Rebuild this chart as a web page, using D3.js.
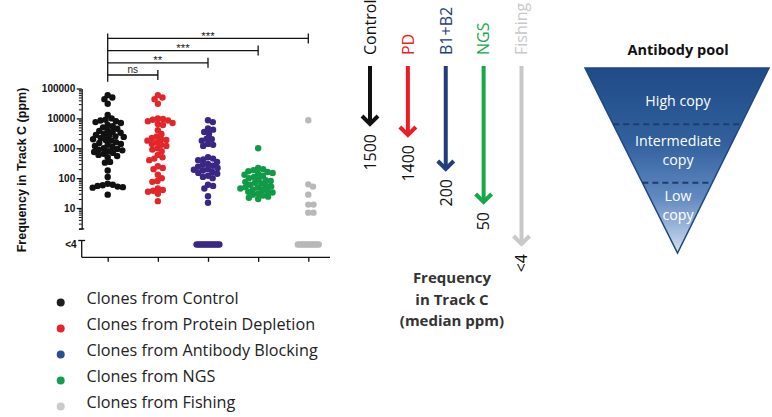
<!DOCTYPE html>
<html><head><meta charset="utf-8">
<script src="https://cdn.jsdelivr.net/npm/d3@7"></script>
<style>body{margin:0;background:#fff} svg{display:block}</style>
</head><body><svg id="c" width="772" height="417"></svg>
<script>
// ---------- data ----------
const groups = ["Control", "PD", "B1+B2", "NGS", "Fishing"];
const legendLabels = ["Clones from Control", "Clones from Protein Depletion", "Clones from Antibody Blocking", "Clones from NGS", "Clones from Fishing"];
const controlValues = [60000, 50000, 44000, 31000, 13000,
  10000, 9000, 8500, 8000, 7500, 7000, 6000, 5500, 5000, 4500, 4000, 3800, 3500, 3300, 3000, 2800, 2600, 2500, 2400, 2200,
  2000, 1900, 1800, 1600, 1500, 1400, 1300, 1200, 1100, 1000, 950, 900, 850, 800, 750, 700, 650, 600, 550, 500,
  350, 330, 180, 110, 65, 60, 58, 55, 52, 50, 48, 28];
const pdValues = [60000, 50000, 44000, 31000,
  10000, 9500, 9000, 8500, 8000, 7000, 6500, 6000,
  4000, 3000, 2500, 2200, 2000, 1900, 1800, 1600, 1400, 1300, 1200, 1000, 900, 800,
  600, 500, 450, 400, 250, 220, 200, 130, 100,
  80, 75, 45, 40, 38, 35, 30, 17];
const blockingValues = [8700, 7500, 4600, 4200, 3500, 3000, 2100, 2000, 1800, 1400, 1300, 1200,
  500, 450, 420, 400, 350, 300, 280, 260, 240, 220, 200, 190, 180, 160, 150, 140, 120, 110, 100,
  60, 55, 45, 25, 15];
const ngsValues = [1000, 220, 200, 185, 170, 160, 150, 140, 130, 120, 110, 100, 92, 85, 80, 75, 70, 65, 60, 56,
  52, 50, 48, 45, 42, 40, 37, 35, 33, 30, 28, 26, 24, 22, 20];
const fishingValues = [8700, 62, 52, 28, 13, 13, 7, 7];
const belowLimitCounts = [0, 0, 13, 0, 12];
const yTickValues = [10, 100, 1000, 10000, 100000];
const belowLimitLabel = "<4";
const yTitle = "Frequency in Track C (ppm)";
const comparisons = [["PD", "ns"], ["B1+B2", "**"], ["NGS", "***"], ["Fishing", "***"]];
const medianValues = [1500, 1400, 200, 50, 3];
const medianLabels = ["1500", "1400", "200", "50", "<4"];
const medianTitle = ["Frequency", "in Track C", "(median ppm)"];
const poolTitle = "Antibody pool";
const poolLevels = [["High copy"], ["Intermediate", "copy"], ["Low", "copy"]];

// ---------- styles ----------
const dotColors = ["#111111", "#e3262a", "#3a2784", "#119a48", "#b8b8b8"];
const legendColors = ["#1e1e1e", "#ee2127", "#284f93", "#14a04b", "#cacaca"];
const arrowColors = ["#111111", "#ed1c24", "#1f3e7c", "#17a84a", "#c8c8c8"];
const seriesValues = [controlValues, pdValues, blockingValues, ngsValues, fishingValues];

const svg = d3.select("#c");
const axisFont = "'Liberation Sans', Arial, sans-serif";
const textFont = "'Open Sans', 'Liberation Sans', sans-serif";

// ---------- scatter plot ----------
const y = d3.scaleLog().domain([2, 100000]).range([228.9, 88.5]);
const x = d3.scalePoint().domain(groups).range([107.7, 308.3]);
const axisX = 81.7, xAxisY = 257.3, belowY = 244.5;

const plot = svg.append("g");

// y axis major
const yAxis = plot.append("g").attr("transform", `translate(${axisX},0)`)
  .call(d3.axisLeft(y).tickValues(yTickValues).tickFormat(d3.format("d")).tickSize(5).tickSizeOuter(0).tickPadding(1.5));
yAxis.selectAll("text").attr("font-family", axisFont).attr("font-weight", "bold").attr("font-size", 10).attr("fill", "#111");
yAxis.selectAll("line,path").attr("stroke", "#111").attr("stroke-width", 1.3);

// minor ticks
const minorVals = [];
[1, 10, 100, 1000, 10000].forEach(dec => d3.range(2, 10).forEach(m => { const v = dec * m; if (v >= 2 && v < 100000) minorVals.push(v); }));
const yMinor = plot.append("g").attr("transform", `translate(${axisX},0)`)
  .call(d3.axisLeft(y).tickValues(minorVals.filter(v => !yTickValues.includes(v))).tickFormat("").tickSize(2.8).tickSizeOuter(0));
yMinor.selectAll("line").attr("stroke", "#111").attr("stroke-width", 1);
yMinor.select("path").remove();
plot.append("line").attr("x1", axisX - 2.5).attr("x2", axisX + 2.5).attr("y1", y(2)).attr("y2", y(2)).attr("stroke", "#111").attr("stroke-width", 1.3);

// lower (below limit) segment
plot.append("line").attr("x1", axisX).attr("x2", axisX).attr("y1", 240.5).attr("y2", xAxisY).attr("stroke", "#111").attr("stroke-width", 1.3);
plot.append("line").attr("x1", axisX - 3.5).attr("x2", axisX + 3.5).attr("y1", 240.5).attr("y2", 240.5).attr("stroke", "#111").attr("stroke-width", 1.3);
plot.append("text").attr("x", axisX - 5).attr("y", belowY + 3.5).attr("text-anchor", "end")
  .attr("font-family", axisFont).attr("font-weight", "bold").attr("font-size", 10).attr("fill", "#111").text(belowLimitLabel);

// x axis
const xAxis = plot.append("g").attr("transform", `translate(0,${xAxisY})`)
  .call(d3.axisBottom(x).tickFormat("").tickSize(4.5).tickSizeOuter(0));
xAxis.select("path").attr("d", `M${axisX},0H330`).attr("stroke", "#111").attr("stroke-width", 1.3);
xAxis.selectAll("line").attr("stroke", "#111").attr("stroke-width", 1.3);

// y title
plot.append("text").attr("transform", `translate(26,170) rotate(-90)`).attr("text-anchor", "middle")
  .attr("font-family", axisFont).attr("font-weight", "bold").attr("font-size", 12.5).attr("fill", "#111").text(yTitle);

// beeswarm
const r = 3.2, dmin = 5.2;
function swarm(values) {
  const pts = values.map(v => ({ v, y: y(v) })).sort((a, b) => a.y - b.y);
  const placed = [];
  for (const p of pts) {
    const cands = [0];
    for (const q of placed) {
      const dy = Math.abs(q.y - p.y);
      if (dy < dmin) { const dx = Math.sqrt(dmin * dmin - dy * dy); cands.push(q.dx + dx, q.dx - dx); }
    }
    cands.sort((a, b) => Math.abs(a) - Math.abs(b));
    for (const c of cands) {
      if (placed.every(q => { const dy = q.y - p.y, dx = q.dx - c; return dx * dx + dy * dy >= dmin * dmin - 0.01; })) { p.dx = c; break; }
    }
    placed.push(p);
  }
  return placed;
}
groups.forEach((g, i) => {
  const pts = swarm(seriesValues[i]);
  plot.append("g").selectAll("circle").data(pts).join("circle")
    .attr("cx", d => x(g) + d.dx).attr("cy", d => d.y).attr("r", r).attr("fill", dotColors[i]);
  const n = belowLimitCounts[i];
  plot.append("g").selectAll("circle").data(d3.range(n)).join("circle")
    .attr("cx", k => x(g) + (k - (n - 1) / 2) * 1.9).attr("cy", belowY).attr("r", r).attr("fill", dotColors[i]);
});

// significance brackets
const br = plot.append("g").attr("stroke", "#111").attr("stroke-width", 1.3);
const brY = k => 75 - k * 12.2;
plot.append("line").attr("x1", x(groups[0])).attr("x2", x(groups[0])).attr("y1", brY(comparisons.length - 1) - 5).attr("y2", axisX).attr("stroke", "#111").attr("stroke-width", 1.3);
comparisons.forEach(([to, lab], k) => {
  const yy = brY(k);
  br.append("line").attr("x1", x(groups[0])).attr("x2", x(to)).attr("y1", yy).attr("y2", yy);
  br.append("line").attr("x1", x(to)).attr("x2", x(to)).attr("y1", yy - 5).attr("y2", yy + 5);
  plot.append("text").attr("x", (x(groups[0]) + x(to)) / 2).attr("y", lab === "ns" ? yy - 1.6 : yy + 1.5)
    .attr("text-anchor", "middle").attr("font-family", axisFont).attr("font-size", lab === "ns" ? 10 : 11.5).attr("fill", "#222").text(lab);
});

// legend
const lg = svg.append("g");
legendLabels.forEach((t, i) => {
  const yy = 298 + i * 26;
  lg.append("circle").attr("cx", 60.7).attr("cy", yy + 4.5).attr("r", 4).attr("fill", legendColors[i]);
  lg.append("text").attr("x", 86.5).attr("y", yy + 5.5).attr("font-family", textFont).attr("font-size", 16.2).attr("fill", "#222").text(t);
});

// ---------- median arrows ----------
const ax = d3.scalePoint().domain(groups).range([370, 521.5]);
const ay = d3.scaleLog().domain(medianValues).range([125, 136, 170, 203, 245]);
const arrows = svg.append("g");
groups.forEach((g, i) => {
  const cx = ax(g), end = ay(medianValues[i]);
  arrows.append("text").attr("transform", `translate(${cx + 5.8},55) rotate(-90)`)
    .attr("font-family", textFont).attr("font-size", 16).attr("fill", arrowColors[i]).text(g);
  arrows.append("line").attr("x1", cx).attr("x2", cx).attr("y1", 66).attr("y2", end - 1.5)
    .attr("stroke", arrowColors[i]).attr("stroke-width", 4);
  arrows.append("path").attr("d", `M${cx - 8},${end - 9}L${cx},${end - 1}L${cx + 8},${end - 9}`)
    .attr("fill", "none").attr("stroke", arrowColors[i]).attr("stroke-width", 4).attr("stroke-linejoin", "miter");
  arrows.append("text").attr("transform", `translate(${cx + 5.8},${end + 9}) rotate(-90)`).attr("text-anchor", "end")
    .attr("font-family", textFont).attr("font-size", 16).attr("fill", "#111").text(medianLabels[i]);
});
medianTitle.forEach((t, k) => {
  arrows.append("text").attr("x", 452).attr("y", 283 + k * 21.5).attr("text-anchor", "middle")
    .attr("font-family", textFont).attr("font-weight", "bold").attr("font-size", 15).attr("fill", "#333").text(t);
});

// ---------- antibody pool triangle ----------
const tri = { x0: 585, x1: 769, top: 68, apexX: 677.5, apexY: 253 };
const defs = svg.append("defs");
const grad = defs.append("linearGradient").attr("id", "pg").attr("x1", 0).attr("y1", 0).attr("x2", 0).attr("y2", 1);
[[0, "#1f4b88"], [0.4, "#31609d"], [0.7, "#6189c0"], [1, "#d2def0"]].forEach(([o, c]) => grad.append("stop").attr("offset", o).attr("stop-color", c));
const pool = svg.append("g");
pool.append("path").attr("d", `M${tri.x0},${tri.top}L${tri.x1},${tri.top}L${tri.apexX},${tri.apexY}Z`)
  .attr("fill", "url(#pg)").attr("stroke", "#1f4780").attr("stroke-width", 1.5);
const edgeL = yy => tri.x0 + (yy - tri.top) / (tri.apexY - tri.top) * (tri.apexX - tri.x0);
const edgeR = yy => tri.x1 - (yy - tri.top) / (tri.apexY - tri.top) * (tri.x1 - tri.apexX);
[124.3, 182.7].forEach(yy => pool.append("line").attr("x1", edgeL(yy)).attr("x2", edgeR(yy)).attr("y1", yy).attr("y2", yy)
  .attr("stroke", "#1c3d6e").attr("stroke-width", 2).attr("stroke-dasharray", "6,4"));
pool.append("text").attr("x", 678).attr("y", 55).attr("text-anchor", "middle").attr("font-family", textFont)
  .attr("font-weight", "bold").attr("font-size", 14.5).attr("fill", "#111").text(poolTitle);
const levelY = [[101], [141, 160], [196, 215]];
poolLevels.forEach((lines, i) => lines.forEach((t, k) => pool.append("text").attr("x", 678).attr("y", levelY[i][k] + 5)
  .attr("text-anchor", "middle").attr("font-family", textFont).attr("font-size", 14.2).attr("fill", "#fff").text(t)));
</script></body></html>
